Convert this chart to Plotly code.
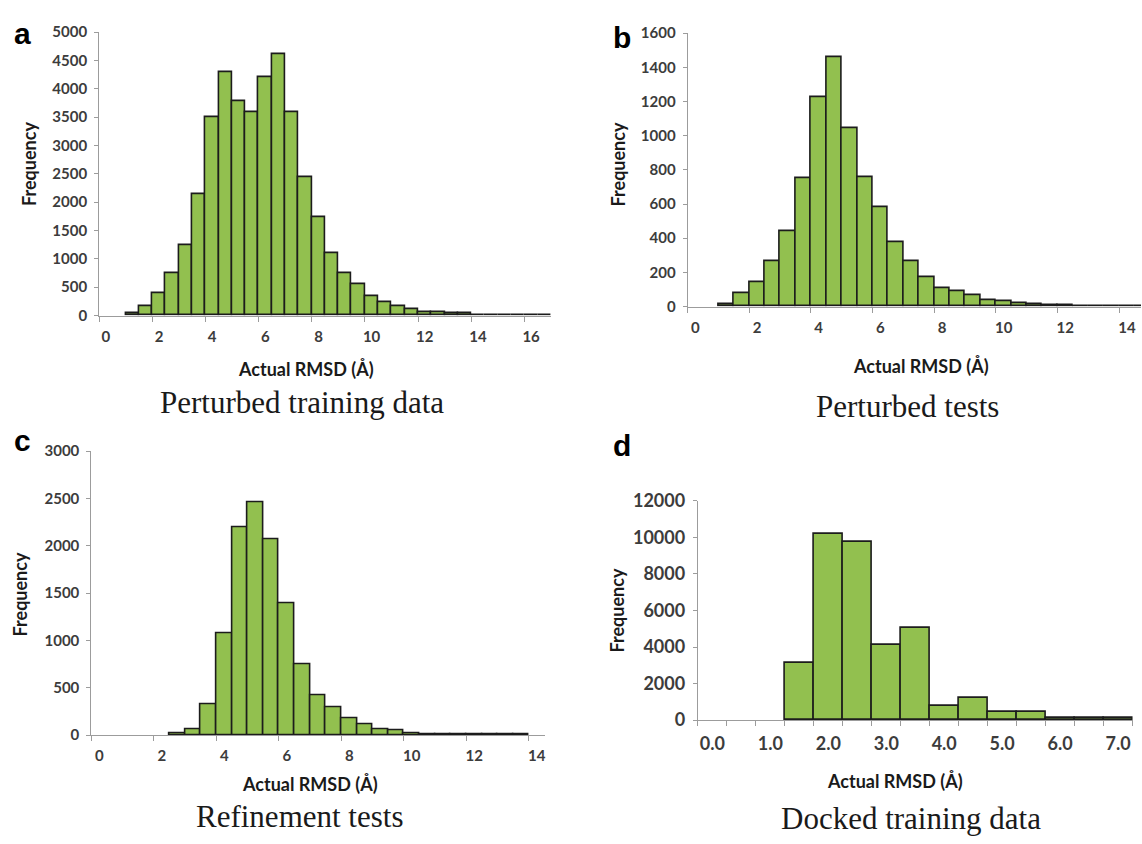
import plotly.graph_objects as go

W, H = 1142, 844

# ---------------- data (RMSD bin category, frequency) ----------------
a_rmsd = [0.0, 0.5, 1.0, 1.5, 2.0, 2.5, 3.0, 3.5, 4.0, 4.5, 5.0, 5.5, 6.0, 6.5, 7.0, 7.5,
          8.0, 8.5, 9.0, 9.5, 10.0, 10.5, 11.0, 11.5, 12.0, 12.5, 13.0, 13.5, 14.0, 14.5,
          15.0, 15.5, 16.0, 16.5]
a_freq = [0, 0, 50, 160, 400, 750, 1250, 2150, 3500, 4300, 3780, 3580, 4200, 4620, 3590, 2450,
          1740, 1100, 750, 550, 350, 230, 160, 120, 60, 55, 40, 35, 15, 15,
          10, 10, 10, 10]

b_rmsd = [0.0, 0.5, 1.0, 1.5, 2.0, 2.5, 3.0, 3.5, 4.0, 4.5, 5.0, 5.5, 6.0, 6.5, 7.0, 7.5,
          8.0, 8.5, 9.0, 9.5, 10.0, 10.5, 11.0, 11.5, 12.0, 12.5, 13.0, 13.5, 14.0, 14.5]
b_freq = [0, 0, 15, 80, 145, 265, 440, 750, 1225, 1460, 1045, 760, 580, 375, 265, 175,
          110, 90, 70, 40, 30, 20, 12, 10, 6, 5, 5, 5, 5, 5]

c_rmsd = [0.0, 0.5, 1.0, 1.5, 2.0, 2.5, 3.0, 3.5, 4.0, 4.5, 5.0, 5.5, 6.0, 6.5, 7.0, 7.5,
          8.0, 8.5, 9.0, 9.5, 10.0, 10.5, 11.0, 11.5, 12.0, 12.5, 13.0, 13.5, 14.0]
c_freq = [0, 0, 0, 0, 0, 20, 65, 330, 1080, 2200, 2460, 2070, 1390, 745, 425, 290,
          175, 110, 65, 50, 20, 10, 8, 8, 8, 8, 8, 8, 0]

d_rmsd = [0.0, 0.5, 1.0, 1.5, 2.0, 2.5, 3.0, 3.5, 4.0, 4.5, 5.0, 5.5, 6.0, 6.5, 7.0]
d_freq = [0, 0, 0, 3150, 10200, 9770, 4090, 5030, 750, 1190, 440, 440, 90, 90, 90]

a_ticks = [0, 2, 4, 6, 8, 10, 12, 14, 16]
b_ticks = [0, 2, 4, 6, 8, 10, 12, 14]
c_ticks = [0, 2, 4, 6, 8, 10, 12, 14]
d_ticks = [0.0, 1.0, 2.0, 3.0, 4.0, 5.0, 6.0, 7.0]

captions = ["Perturbed training data", "Perturbed tests", "Refinement tests", "Docked training data"]
letters = ["a", "b", "c", "d"]
x_title = "Actual RMSD (Å)"
y_title = "Frequency"

# ---------------- styling ----------------
BAR = "#92C04F"
EDGE = "#1c1c1c"
AX = "#9c9c9c"
SANS = "Lato"


def px(x):
    return x / W


def py(y):
    return 1 - y / H


panels = [
    dict(x=a_rmsd, y=a_freq, ticks=a_ticks, fmt="{:g}", xpx=(99.3, 551.5), xr_end=16.75,
         ypx=(311.7, 20.7), ymax=5000, dy=500, every=False, tsize=15,
         letter=(12, 22), xt=(306, 367), yt=(29, 156), cap=(302, 401)),
    dict(x=b_rmsd, y=b_freq, ticks=b_ticks, fmt="{:g}", xpx=(688.3, 1142), xr_end=-0.25 + (1142 - 688.3) / 30.85,
         ypx=(302.5, 21.7), ymax=1600, dy=200, every=False, tsize=15,
         letter=(612, 26), xt=(922, 363), yt=(618, 156), cap=(908, 405)),
    dict(x=c_rmsd, y=c_freq, ticks=c_ticks, fmt="{:g}", xpx=(91.5, 545), xr_end=14.25,
         ypx=(742.5, 451), ymax=3000, dy=500, every=False, tsize=15,
         letter=(12, 440), xt=(310, 793), yt=(20, 598), cap=(300, 826)),
    dict(x=d_rmsd, y=d_freq, ticks=d_ticks, fmt="{:.1f}", xpx=(698.5, 1133.6), xr_end=7.25,
         ypx=(727, 502), ymax=12000, dy=2000, every=True, tsize=18,
         letter=(612, 445), xt=(896, 790), yt=(618, 614), cap=(912, 828)),
]

fig = go.Figure()
annotations = []
layout = dict(
    width=W, height=H, margin=dict(l=0, r=0, t=0, b=0),
    paper_bgcolor="white", plot_bgcolor="white", showlegend=False,
    bargap=0,
)

for i, p in enumerate(panels):
    k = "" if i == 0 else str(i + 1)
    xa, ya = "x" + k, "y" + k
    fig.add_trace(go.Bar(
        x=p["x"], y=[v if v > 0 else None for v in p["y"]], width=0.5,
        marker=dict(color=BAR, line=dict(color=EDGE, width=1.6)),
        xaxis=xa, yaxis=ya, hovertemplate="%{x}: %{y}<extra></extra>",
    ))
    if p["every"]:
        bounds = [c - 0.25 for c in p["x"]] + [p["x"][-1] + 0.25]
    else:
        bounds = [t - 0.25 for t in p["ticks"]]
    layout["xaxis" + k] = dict(
        domain=[px(p["xpx"][0]), px(p["xpx"][1])], anchor=ya,
        range=[-0.25, p["xr_end"]], showgrid=False, zeroline=False,
        showline=True, linecolor=AX, linewidth=1.2,
        tickmode="array", tickvals=p["ticks"], ticktext=[p["fmt"].format(t) for t in p["ticks"]],
        ticks="", ticklabelstandoff=7, ticklabeloverflow="allow",
        tickfont=dict(family=SANS, size=p["tsize"], color="#3c3c3c", weight="bold"),
        minor=dict(tickmode="array", tickvals=bounds, ticks="outside", ticklen=5,
                   tickcolor=AX, tickwidth=1.2, showgrid=False),
    )
    layout["yaxis" + k] = dict(
        domain=[py(p["ypx"][0]), py(p["ypx"][1])], anchor=xa,
        range=[0, p["ymax"]], dtick=p["dy"], tick0=0, tickformat="d",
        showgrid=False, zeroline=False,
        showline=True, linecolor=AX, linewidth=1.2,
        ticks="outside", ticklen=4, tickcolor=AX, tickwidth=1.2, ticklabelstandoff=4,
        tickfont=dict(family=SANS, size=p["tsize"], color="#3c3c3c", weight="bold"),
    )
    annotations += [
        dict(text=letters[i], x=px(p["letter"][0]), y=py(p["letter"][1]), xref="paper", yref="paper",
             xanchor="left", yanchor="middle", showarrow=False,
             font=dict(family="Liberation Sans", size=30, color="black", weight="bold")),
        dict(text=x_title, x=px(p["xt"][0]), y=py(p["xt"][1]), xref="paper", yref="paper",
             xanchor="center", yanchor="middle", showarrow=False,
             font=dict(family=SANS, size=18, color="#1a1a1a", weight="bold")),
        dict(text=y_title, x=px(p["yt"][0]), y=py(p["yt"][1]), xref="paper", yref="paper",
             xanchor="center", yanchor="middle", showarrow=False, textangle=-90,
             font=dict(family=SANS, size=18, color="#1a1a1a", weight="bold")),
        dict(text=captions[i], x=px(p["cap"][0]), y=py(p["cap"][1]), xref="paper", yref="paper",
             xanchor="center", yanchor="middle", showarrow=False,
             font=dict(family="Liberation Serif", size=31, color="#1a1a1a")),
    ]

layout["annotations"] = annotations
fig.update_layout(**layout)
fig.write_html(
    "out.html",
    config={"displayModeBar": False},
    post_script="document.body.style.margin='0';document.body.style.overflow='hidden';",
)
